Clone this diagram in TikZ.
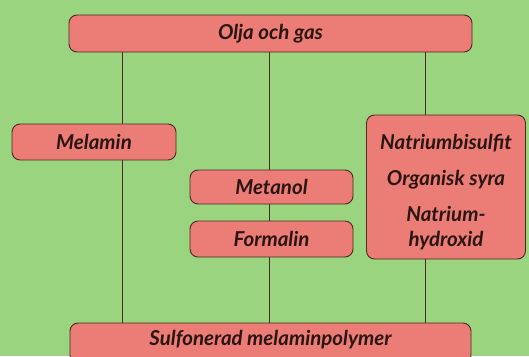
\documentclass[tikz,border=0pt]{standalone}
\usepackage{fontspec}
\setmainfont{Lato}
\definecolor{bggreen}{HTML}{9AD47E}
\definecolor{boxpink}{HTML}{EC7C76}
\definecolor{boxline}{HTML}{4A2A22}
\definecolor{txt}{HTML}{2A1512}
\begin{document}
\begin{tikzpicture}[x=1pt,y=-1pt,
  lbl/.style={text=txt,font=\fontsize{20.5}{25}\selectfont\bfseries\itshape,align=center,inner sep=0pt},
  box/.style={draw=boxline,line width=0.9pt,fill=boxpink,rounded corners=8pt,
    inner sep=0pt,lbl},
  link/.style={draw=boxline,line width=0.9pt}]
\fill[bggreen] (0,0) rectangle (529,356);
\useasboundingbox (0,0) rectangle (529,356);
\node[box,minimum width=403pt,minimum height=37pt] (olja) at (270.5,33.5) {Olja och gas};
\node[box,minimum width=164pt,minimum height=36pt] (mel) at (94,142) {Melamin};
\node[box,minimum width=163pt,minimum height=34pt] (met) at (271.5,187) {Metanol};
\node[box,minimum width=163pt,minimum height=36pt] (form) at (271.5,239) {Formalin};
\node[box,minimum width=159pt,minimum height=144pt] (nat) at (446,187) {};
\node[lbl] (n1) at (446,143) {Natriumbisulfit};
\node[lbl] (n2) at (446,180) {Organisk syra};
\node[lbl] (n3) at (446,228) {Natrium-\\hydroxid};
\node[box,minimum width=401pt,minimum height=40pt] (sulf) at (270.5,343) {};
\node[lbl] (sulft) at (270.5,340) {Sulfonerad melaminpolymer};
\draw[link] (122,0 |- olja.south) -- (122,0 |- mel.north);
\draw[link] (122,0 |- mel.south) -- (122,0 |- sulf.north);
\draw[link] (269,0 |- olja.south) -- (269,0 |- met.north);
\draw[link] (269,0 |- met.south) -- (269,0 |- form.north);
\draw[link] (269,0 |- form.south) -- (269,0 |- sulf.north);
\draw[link] (425,0 |- olja.south) -- (425,0 |- nat.north);
\draw[link] (425,0 |- nat.south) -- (425,0 |- sulf.north);
\end{tikzpicture}
\end{document}
